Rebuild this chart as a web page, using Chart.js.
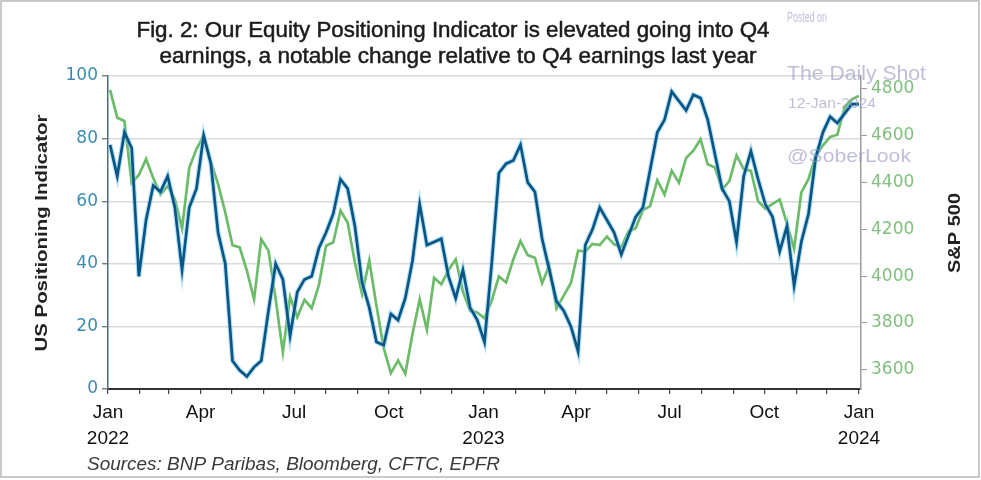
<!DOCTYPE html>
<html><head><meta charset="utf-8">
<script src="https://cdn.jsdelivr.net/npm/chart.js@4.4.1/dist/chart.umd.min.js"></script>
<style>html,body{margin:0;padding:0;background:#fff;}canvas{display:block}</style>
</head><body>
<canvas id="c" width="981" height="480"></canvas>
<script>
const titleLines = ['Fig. 2: Our Equity Positioning Indicator is elevated going into Q4',
                    'earnings, a notable change relative to Q4 earnings last year'];
const sourceText = 'Sources: BNP Paribas, Bloomberg, CFTC, EPFR';
const leftAxisTitle = 'US Positioning Indicator';
const rightAxisTitle = 'S&P 500';
const watermark = ['Posted on', 'The Daily Shot', '12-Jan-2024', '@SoberLook'];

// month starts (days since 1 Jan 2022) and quarter labels
const monthStartDays = [0,31,59,90,120,151,181,212,243,273,304,334,
                        365,396,424,455,485,516,546,577,608,638,669,699,730];
const quarterLabels = {0:['Jan','2022'],90:'Apr',181:'Jul',273:'Oct',
                       365:['Jan','2023'],455:'Apr',546:'Jul',638:'Oct',730:['Jan','2024']};

// weekly observations, Jan 2022 - Jan 2024 (day offsets)
const weekDays = Array.from({length:105}, (_, i) => 2 + 7 * i);

// US Positioning Indicator (left axis)
const positioning = [78,68,82,77,36,54,65,63,68,58,
  38,58,64,81,72,50,40,9,6,4,
  7,9,25,40,35,17,31,35,36,45,
  50,56,67,64,52,34,26,15,14,24,
  22,29,41,59,46,47,48,36,29,38,
  26,22,15,40,69,72,73,78,66,63,
  48,38,28,25,20,12,46,51,58,54,
  50,43,49,55,58,70,82,86,95,92,
  89,94,93,86,75,64,60,47,68,76,
  67,59,55,44,52,33,47,56,74,82,
  87,85,88,91,91];

// S&P 500 (right axis)
const sp500 = [4796,4677,4663,4398,4432,4500,4419,4349,4385,4329,
  4204,4463,4543,4600,4488,4393,4272,4132,4123,4024,
  3901,4158,4109,3901,3675,3912,3825,3899,3863,3962,
  4130,4145,4280,4228,4058,3924,4067,3873,3693,3586,
  3640,3583,3753,3901,3771,3993,3965,4026,4072,3934,
  3852,3845,3820,3895,3999,3973,4071,4150,4090,4079,
  3970,4046,3862,3917,3971,4109,4105,4138,4133,4169,
  4136,4124,4192,4205,4282,4299,4410,4348,4450,4399,
  4505,4536,4585,4478,4464,4370,4406,4516,4457,4450,
  4320,4288,4309,4327,4224,4117,4358,4415,4514,4559,
  4595,4604,4719,4755,4770];

const leftTicks = {min:0, max:100, step:20};
const rightTicks = {min:3518, max:4855, step:200};

const posPts = weekDays.map((d, i) => ({x:d, y:positioning[i]}));
const spPts = weekDays.map((d, i) => ({x:d, y:sp500[i]}));

function fitText(ctx, text, x, y, width, font, color, align, rot, stroke) {
  ctx.save();
  ctx.font = font;
  const w = ctx.measureText(text).width;
  ctx.translate(x, y);
  if (rot) ctx.rotate(rot);
  ctx.scale(width / w, 1);
  ctx.fillStyle = color;
  ctx.textBaseline = 'middle';
  ctx.textAlign = align || 'center';
  ctx.fillText(text, 0, 0);
  if (stroke) { ctx.strokeStyle = color; ctx.lineWidth = stroke; ctx.strokeText(text, 0, 0); }
  ctx.restore();
}

const decor = {
  id: 'decor',
  afterDraw(chart) {
    const ctx = chart.ctx;
    const tf = '22px "Liberation Sans", Arial';
    fitText(ctx, titleLines[0], 453, 31, 633, tf, '#1c1c1c', 'center', 0, 0.5);
    fitText(ctx, titleLines[1], 458, 57, 597, tf, '#1c1c1c', 'center', 0, 0.5);
    fitText(ctx, leftAxisTitle, 42, 233, 237, 'bold 17px "Liberation Sans", Arial', '#222', 'center', -Math.PI / 2);
    fitText(ctx, rightAxisTitle, 955, 233, 80, 'bold 17px "Liberation Sans", Arial', '#222', 'center', -Math.PI / 2);
    fitText(ctx, sourceText, 87, 465, 413, 'italic 18px "Liberation Sans", Arial', '#3a3a3a', 'left');
    const wm = 'rgba(150,150,195,0.62)';
    fitText(ctx, watermark[0], 787, 18, 40, '14px "Liberation Sans", Arial', wm, 'left');
    fitText(ctx, watermark[1], 787, 74, 139, '20px "Liberation Sans", Arial', wm, 'left');
    fitText(ctx, watermark[2], 788, 104, 88, '14px "Liberation Sans", Arial', wm, 'left');
    fitText(ctx, watermark[3], 787, 157, 124, '19px "Liberation Sans", Arial', wm, 'left');
    ctx.save();
    ctx.strokeStyle = '#c9c9c9';
    ctx.lineWidth = 2;
    ctx.strokeRect(1, 1, 978, 476);
    ctx.restore();
  }
};

new Chart(document.getElementById('c'), {
  type: 'line',
  data: {
    datasets: [
      {label:'US Positioning Indicator', data: posPts, yAxisID:'y', borderColor:'#0b5585',
       borderWidth:2.7, pointRadius:0, tension:0, order:0},
      {label:'halo', data: posPts, yAxisID:'y', borderColor:'rgba(120,200,235,0.55)',
       borderWidth:5, pointRadius:0, tension:0, order:1},
      {label:'S&P 500', data: spPts, yAxisID:'y1', borderColor:'#6cbb69',
       borderWidth:2.7, pointRadius:0, tension:0, order:2}
    ]
  },
  options: {
    responsive: false,
    animation: false,
    layout: {padding: {top: 76, left: 0, right: 0, bottom: 0}},
    plugins: {legend: {display: false}, tooltip: {enabled: false}, title: {display: false}},
    scales: {
      x: {
        type: 'linear', min: 0, max: 732, position: 'bottom',
        afterFit(s) { s.height = 91; },
        afterBuildTicks(s) { s.ticks = monthStartDays.map(v => ({value: v})); },
        ticks: {autoSkip: false, maxRotation: 0, minRotation: 0, padding: 6,
          color: '#111', font: {family: '"Liberation Sans", Arial', size: 19, lineHeight: 1.35},
          callback: (v) => quarterLabels[v] !== undefined ? quarterLabels[v] : ''},
        grid: {drawOnChartArea: false, drawTicks: true, tickLength: 5, tickColor: '#444', lineWidth: 1.2},
        border: {color: '#333', width: 2}
      },
      y: {
        position: 'left', min: leftTicks.min, max: leftTicks.max,
        afterFit(s) { s.width = 108; },
        ticks: {stepSize: leftTicks.step, padding: 4, color: '#3a8cb2',
          font: {family: '"DejaVu Sans", sans-serif', size: 17}},
        grid: {color: '#dadada', lineWidth: 1.4, tickColor: '#6b7f88', tickLength: 6},
        border: {color: '#4d6d7c', width: 1.5}
      },
      y1: {
        position: 'right', min: rightTicks.min, max: rightTicks.max,
        afterFit(s) { s.width = 120; },
        ticks: {stepSize: rightTicks.step, includeBounds: false, padding: 4, color: '#80c07e',
          font: {family: '"DejaVu Sans", sans-serif', size: 17},
          callback: (v) => String(v)},
        grid: {drawOnChartArea: false, tickColor: '#9a9a9a', tickLength: 6},
        border: {color: '#9c9c9c', width: 1.5}
      }
    }
  },
  plugins: [decor]
});
</script>
</body></html>
